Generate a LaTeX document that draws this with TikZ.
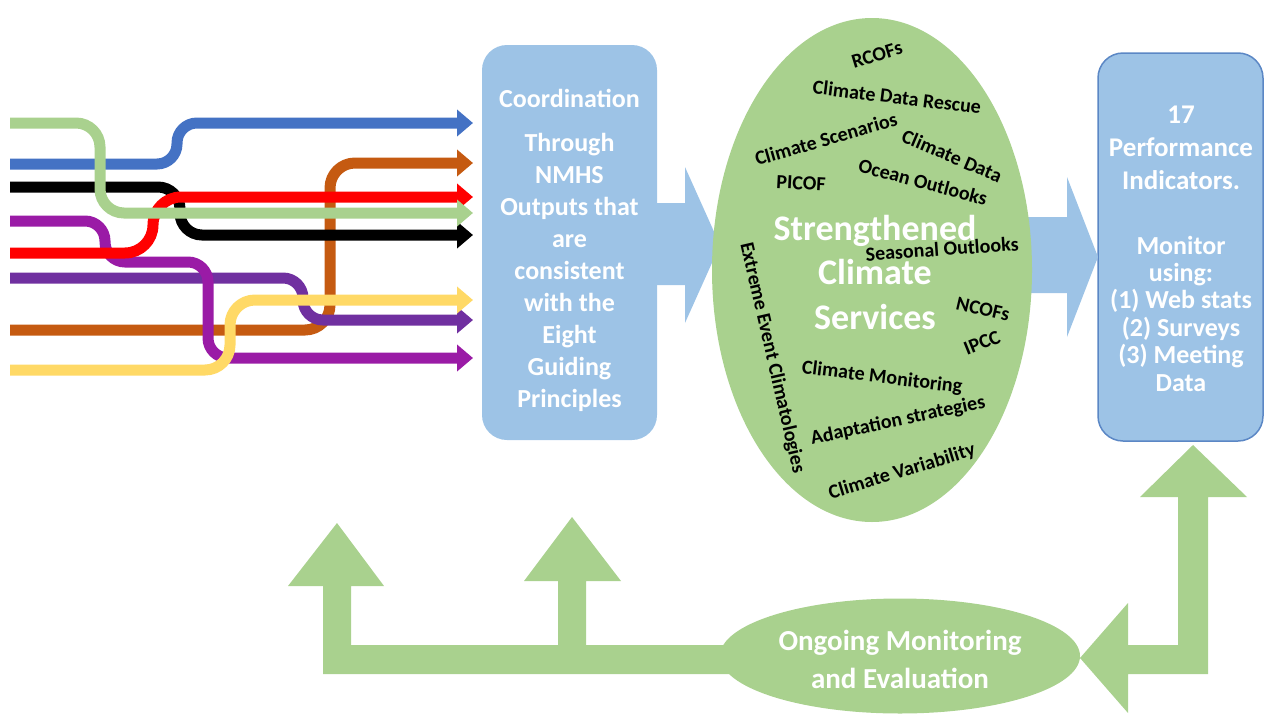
\documentclass[tikz,border=0pt]{standalone}
\usepackage{fontspec}
\setmainfont{Carlito}
\usetikzlibrary{arrows.meta,shapes.geometric}
\definecolor{boxblue}{HTML}{9DC3E6}
\definecolor{boxborder}{HTML}{5B87C5}
\definecolor{lgreen}{HTML}{A9D18E}
\definecolor{lblue}{HTML}{4472C4}
\definecolor{lbrown}{HTML}{C55A11}
\definecolor{lyellow}{HTML}{FFD966}
\definecolor{lpurple}{HTML}{7030A0}
\definecolor{lmagenta}{HTML}{9A1BA6}
\definecolor{lred}{HTML}{FF0000}
\begin{document}
\begin{tikzpicture}[x=1pt,y=-1pt,
  flow/.style={line width=11pt, rounded corners=20pt, -{Triangle[length=16pt,width=26pt]}},
  bluebox/.style={rectangle, rounded corners=25pt, fill=boxblue, inner sep=0pt},
  whitetext/.style={text=white, font=\bfseries, align=center, inner sep=0pt},
  word/.style={text=black, font=\bfseries\fontsize{20}{20}\selectfont, inner sep=0pt},
  blob/.style={ellipse, fill=lgreen, inner sep=0pt},
  blockarrow/.style={fill=boxblue},
  greenarrow/.style={fill=lgreen}
]
\useasboundingbox (0,0) rectangle (1272,715);

% ---- coloured flow lines ----
\coordinate (br0) at (10,330);  \coordinate (br1) at (473,163);
\coordinate (pu0) at (10,278);  \coordinate (pu1) at (473,320);
\coordinate (mg0) at (10,221);  \coordinate (mg1) at (473,358);
\coordinate (ye0) at (10,370);  \coordinate (ye1) at (473,300);
\coordinate (bk0) at (10,187);  \coordinate (bk1) at (473,235);
\coordinate (rd0) at (10,253);  \coordinate (rd1) at (473,197);
\coordinate (bl0) at (10,164);  \coordinate (bl1) at (473,123);
\coordinate (gr0) at (10,123);  \coordinate (gr1) at (473,213);

\draw[flow, lbrown, rounded corners=25pt]  (br0) -- (330,330) -- (330,163) -- (br1);
\draw[flow, lpurple] (pu0) -- (303,278) -- (303,320) -- (pu1);
\draw[flow, lmagenta] (mg0) -- (105,221) -- (105,262) -- (208,262) -- (208,358) -- (mg1);
\draw[flow, lyellow, rounded corners=25pt] (ye0) -- (230,370) -- (230,300) -- (ye1);
\draw[flow, black, rounded corners=22pt]   (bk0) -- (180,187) -- (180,235) -- (bk1);
\draw[flow, lred, rounded corners=28pt] (rd0) -- (153,253) -- (153,197) -- (rd1);
\draw[flow, lblue]   (bl0) -- (177,164) -- (177,123) -- (bl1);
\draw[flow, lgreen, rounded corners=24pt]  (gr0) -- (100,123) -- (100,213) -- (gr1);

% ---- boxes ----
\node[bluebox, minimum width=175pt, minimum height=395pt] (coord) at (569.5,242.5) {};
\node[bluebox, draw=boxborder, line width=1.5pt, minimum width=165pt, minimum height=388pt] (perf) at (1180.5,247) {};

% ---- block arrows (behind the ellipse) ----
\fill[blockarrow] (657,203) -- (685,203) -- (685,167) -- (720,245) -- (685,323) -- (685,285) -- (657,285) -- cycle;
\fill[blockarrow] (1020,217) -- (1067,217) -- (1067,177) -- (1098,257) -- (1067,337) -- (1067,293) -- (1020,293) -- cycle;

% ---- central ellipse ----
\node[blob, minimum width=320pt, minimum height=504pt] (svc) at (872,270) {};

% ---- texts in boxes ----
\node[whitetext, font=\bfseries\fontsize{26}{32}\selectfont] at (569.5,98) {Coordination};
\node[whitetext, font=\bfseries\fontsize{26}{31.9}\selectfont] at (569.5,272.5)
  {Through\\NMHS\\Outputs that\\are\\consistent\\with the\\Eight\\Guiding\\Principles};
\node[whitetext, font=\bfseries\fontsize{27}{33}\selectfont] at (1181,148)
  {17\\Performance\\Indicators.};
\node[whitetext, font=\bfseries\fontsize{26}{27.4}\selectfont] at (1181,313.5)
  {Monitor\\using:\\(1) Web stats\\(2) Surveys\\(3) Meeting\\Data};

% ---- words in the ellipse ----
\node[whitetext, font=\bfseries\fontsize{36}{44.5}\selectfont] at (875,272)
  {Strengthened\\Climate\\Services};
\node[word, rotate=17]  at (877,55)  {RCOFs};
\node[word, rotate=-7]  at (897,97)  {Climate Data Rescue};
\node[word, rotate=16]  at (826,139) {Climate Scenarios};
\node[word, rotate=-23] at (952,156) {Climate Data};
\node[word, rotate=-15] at (923,182) {Ocean Outlooks};
\node[word, rotate=-3]  at (801,183) {PICOF};
\node[word, rotate=4]   at (942,249) {Seasonal Outlooks};
\node[word, rotate=-77] at (772,358) {Extreme Event Climatologies};
\node[word, rotate=-13] at (983,309) {NCOFs};
\node[word, rotate=22]  at (982,343) {IPCC};
\node[word, rotate=-7]  at (882,378) {Climate Monitoring};
\node[word, rotate=12]  at (898,421) {Adaptation strategies};
\node[word, rotate=17]  at (902,472) {Climate Variability};

% ---- feedback arrows ----
\fill[greenarrow] (323,674) -- (323,586) -- (288,586) -- (337,523) -- (384,586) -- (351,586)
  -- (351,645) -- (558,645) -- (558,581) -- (524,581) -- (572,517) -- (621,581) -- (586,581)
  -- (586,645) -- (760,645) -- (760,674) -- cycle;
\node[blob, minimum width=360pt, minimum height=115pt] (me) at (900,656) {};
\node[whitetext, font=\bfseries\fontsize{29}{38}\selectfont] at (900,659)
  {Ongoing Monitoring\\and Evaluation};
\fill[greenarrow] (1080,658) -- (1128,603) -- (1128,645) -- (1178,645) -- (1178,497) -- (1140,497)
  -- (1193,445) -- (1247,497) -- (1208,497) -- (1208,674) -- (1128,674) -- (1128,713) -- cycle;
\end{tikzpicture}
\end{document}
